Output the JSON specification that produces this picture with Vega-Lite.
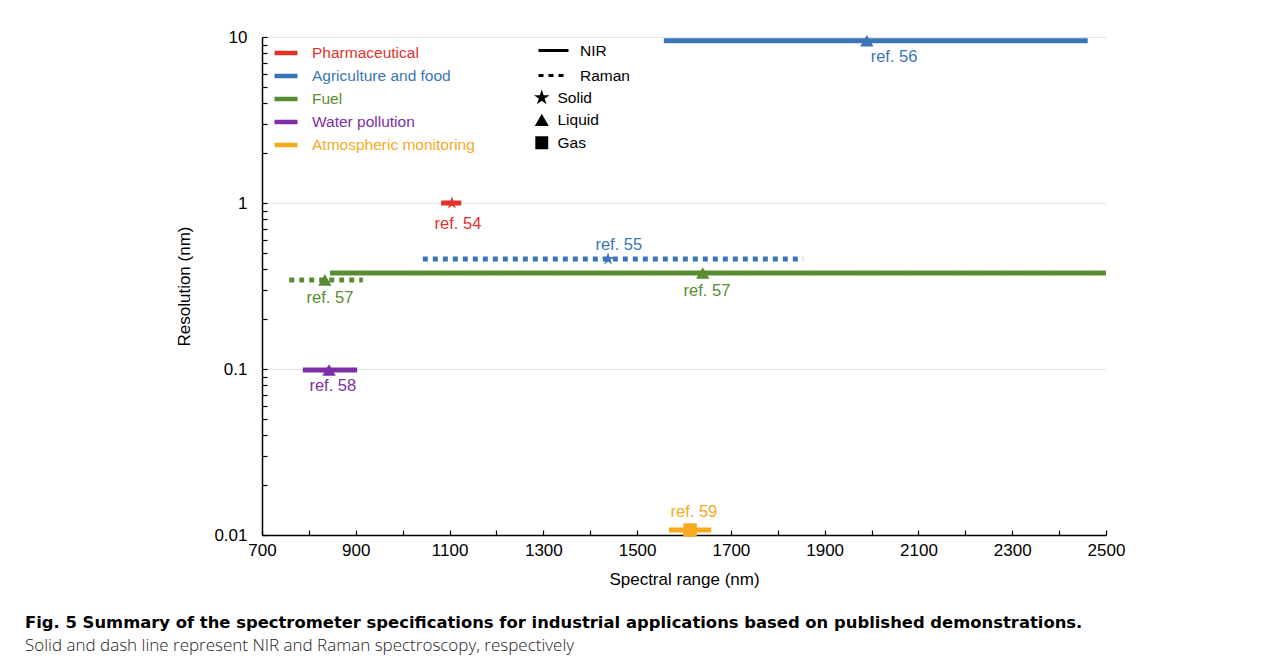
{
  "$schema": "https://vega.github.io/schema/vega-lite/v6.json",
  "autosize": "none",
  "padding": {"left": 262, "top": 37, "right": 175, "bottom": 135},
  "background": "white",
  "config": {"font": "Liberation Sans", "view": {"stroke": null}},
  "width": 844,
  "height": 498,
  "title": {
    "text": "Fig. 5 Summary of the spectrometer specifications for industrial applications based on published demonstrations.",
    "subtitle": "Solid and dash line represent NIR and Raman spectroscopy, respectively",
    "orient": "bottom",
    "anchor": "start",
    "frame": "group",
    "font": "DejaVu Sans",
    "fontSize": 16.4,
    "fontWeight": "bold",
    "color": "#000000",
    "subtitleFont": "Open Sans",
    "subtitleFontSize": 17,
    "subtitleFontWeight": 300,
    "subtitleColor": "#222222",
    "subtitlePadding": 7,
    "limit": 1300,
    "offset": 28,
    "dx": -237
  },
  "data": {
    "values": [
      {"category": "Pharmaceutical", "tech": "NIR", "state": "Solid", "x0": 1082, "x1": 1125, "res": 1.0, "mx": 1105, "ref": "ref. 54", "lx": 1118, "ly": 0.747},
      {"category": "Agriculture and food", "tech": "NIR", "state": "Liquid", "x0": 1557, "x1": 2461, "res": 9.5, "mx": 1990, "ref": "ref. 56", "lx": 2048, "ly": 7.58},
      {"category": "Agriculture and food", "tech": "Raman", "state": "Solid", "x0": 1043, "x1": 1854, "res": 0.46, "mx": 1438, "ref": "ref. 55", "lx": 1461, "ly": 0.558},
      {"category": "Fuel", "tech": "NIR", "state": "Liquid", "x0": 845, "x1": 2500, "res": 0.379, "mx": 1640, "ref": "ref. 57", "lx": 1649, "ly": 0.295},
      {"category": "Fuel", "tech": "Raman", "state": "Liquid", "x0": 758, "x1": 915, "res": 0.344, "mx": 834, "ref": "ref. 57", "lx": 845, "ly": 0.268},
      {"category": "Water pollution", "tech": "NIR", "state": "Liquid", "x0": 787, "x1": 903, "res": 0.0986, "mx": 843, "ref": "ref. 58", "lx": 851, "ly": 0.079},
      {"category": "Atmospheric monitoring", "tech": "NIR", "state": "Gas", "x0": 1568, "x1": 1658, "res": 0.01072, "mx": 1613, "ref": "ref. 59", "lx": 1621, "ly": 0.01376}
    ]
  },
  "layer": [
    {
      "mark": {"type": "rule", "strokeWidth": 5},
      "encoding": {
        "x": {
          "field": "x0", "type": "quantitative",
          "scale": {"domain": [700, 2500], "nice": false, "zero": false},
          "axis": {
            "values": [700, 800, 900, 1000, 1100, 1200, 1300, 1400, 1500, 1600, 1700, 1800, 1900, 2000, 2100, 2200, 2300, 2400, 2500],
            "labelExpr": "(datum.value - 700) % 200 == 0 ? datum.label : ''",
            "format": "d",
            "title": "Spectral range (nm)",
            "grid": false,
            "tickSize": -5,
            "labelPadding": 12,
            "labelFlush": false,
            "domainColor": "black",
            "domainWidth": 1.5,
            "tickColor": "black",
            "tickWidth": 1.2,
            "labelFontSize": 17,
            "labelColor": "black",
            "titleFontSize": 17,
            "titleFontWeight": "normal",
            "titleColor": "black",
            "titlePadding": 13
          }
        },
        "x2": {"field": "x1"},
        "y": {
          "field": "res", "type": "quantitative",
          "scale": {"type": "log", "domain": [0.01, 10], "nice": false},
          "axis": {
            "values": [0.01, 0.02, 0.03, 0.04, 0.05, 0.06, 0.07, 0.08, 0.09, 0.1, 0.2, 0.3, 0.4, 0.5, 0.6, 0.7, 0.8, 0.9, 1, 2, 3, 4, 5, 6, 7, 8, 9, 10],
            "labelExpr": "(datum.value == 0.01 || datum.value == 0.1 || datum.value == 1 || datum.value == 10) ? datum.label : ''",
            "format": "~g",
            "title": "Resolution (nm)",
            "grid": true,
            "gridColor": "#e3e3e3",
            "gridWidth": 1.2,
            "gridOpacity": {"condition": {"test": "datum.value == 0.1 || datum.value == 1 || datum.value == 10", "value": 1}, "value": 0},
            "tickSize": -5,
            "labelPadding": 20,
            "labelFlush": false,
            "domainColor": "black",
            "domainWidth": 1.5,
            "tickColor": "black",
            "tickWidth": 1.2,
            "labelFontSize": 17,
            "labelColor": "black",
            "titleFontSize": 17,
            "titleFontWeight": "normal",
            "titleColor": "black",
            "titlePadding": 20
          }
        },
        "color": {
          "field": "category", "type": "nominal",
          "scale": {
            "domain": ["Pharmaceutical", "Agriculture and food", "Fuel", "Water pollution", "Atmospheric monitoring"],
            "range": ["#e2332b", "#3a76b7", "#5a8c32", "#7e2ea6", "#f6aa1c"]
          },
          "legend": {
            "orient": "none", "legendX": 10, "legendY": 2, "title": null,
            "symbolType": "stroke", "symbolStrokeWidth": 4.5, "symbolSize": 529,
            "symbolStrokeColor": {"expr": "scale('color', datum.value)"},
            "labelColor": {"expr": "scale('color', datum.value)"},
            "labelFontSize": 15.5, "labelOffset": 12, "labelLimit": 400, "rowPadding": 0
          }
        },
        "strokeDash": {
          "field": "tech", "type": "nominal",
          "scale": {"domain": ["NIR", "Raman"], "range": [[1, 0], [5, 5]]},
          "legend": {
            "orient": "none", "legendX": 275, "legendY": -3, "title": null,
            "symbolType": "stroke", "symbolStrokeColor": "black", "symbolStrokeWidth": 3, "symbolSize": 900,
            "labelFontSize": 15.5, "labelOffset": 10, "rowPadding": 0
          }
        }
      }
    },
    {
      "mark": {"type": "point", "filled": true, "opacity": 1, "size": 180},
      "encoding": {
        "x": {"field": "mx", "type": "quantitative"},
        "y": {"field": "res", "type": "quantitative"},
        "color": {"field": "category", "type": "nominal"},
        "shape": {
          "field": "state", "type": "nominal",
          "scale": {
            "domain": ["Solid", "Liquid", "Gas"],
            "range": ["M0,-1L0.2245,-0.309L0.951,-0.309L0.363,0.118L0.588,0.809L0,0.382L-0.588,0.809L-0.363,0.118L-0.951,-0.309L-0.2245,-0.309Z", "triangle-up", "square"]
          },
          "legend": {
            "orient": "none", "legendX": 272, "legendY": 53, "title": null,
            "symbolSize": 130, "labelFontSize": 15.5, "labelOffset": 8, "rowPadding": 4.5,
            "symbolFillColor": "black", "symbolStrokeColor": "black"
          }
        }
      }
    },
    {
      "mark": {"type": "text", "fontSize": 16.5, "align": "center", "baseline": "middle"},
      "encoding": {
        "x": {"field": "lx", "type": "quantitative"},
        "y": {"field": "ly", "type": "quantitative"},
        "text": {"field": "ref"},
        "color": {"field": "category", "type": "nominal"}
      }
    }
  ]
}
